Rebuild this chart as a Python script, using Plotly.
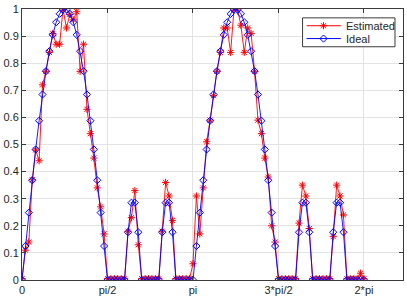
import numpy as np
import plotly.graph_objects as go

# sample grid: 101 uniform samples over [0, 2*pi]
n_samples = 101
x_vals = np.linspace(0, 2 * np.pi, n_samples)

ideal = [
    0.0, 0.1253, 0.2487, 0.3681, 0.4818, 0.5878, 0.6845, 0.7705, 0.8443, 0.9048,
    0.9511, 0.9823, 0.9980, 0.9980, 0.9823, 0.9511, 0.9048, 0.8443, 0.7705, 0.6845,
    0.5878, 0.4818, 0.3681, 0.2487, 0.1253, 0.0, 0.0, 0.0, 0.0, 0.0,
    0.0, 0.1763, 0.2853, 0.2853, 0.1763, 0.0, 0.0, 0.0, 0.0, 0.0,
    0.0, 0.1763, 0.2853, 0.2853, 0.1763, 0.0, 0.0, 0.0, 0.0, 0.0,
    0.0, 0.1253, 0.2487, 0.3681, 0.4818, 0.5878, 0.6845, 0.7705, 0.8443, 0.9048,
    0.9511, 0.9823, 0.9980, 0.9980, 0.9823, 0.9511, 0.9048, 0.8443, 0.7705, 0.6845,
    0.5878, 0.4818, 0.3681, 0.2487, 0.1253, 0.0, 0.0, 0.0, 0.0, 0.0,
    0.0, 0.1763, 0.2853, 0.2853, 0.1763, 0.0, 0.0, 0.0, 0.0, 0.0,
    0.0, 0.1763, 0.2853, 0.2853, 0.1763, 0.0, 0.0, 0.0, 0.0, 0.0,
    0.0,
]

estimated = [
    0.005, 0.11, 0.14, 0.37, 0.48, 0.44, 0.72, 0.77, 0.84, 0.91,
    0.87, 0.87, 1.00, 0.93, 0.98, 0.96, 0.99, 0.77, 0.87, 0.63,
    0.54, 0.45, 0.34, 0.27, 0.17, 0.005, 0.005, 0.005, 0.005, 0.005,
    0.005, 0.18, 0.23, 0.33, 0.13, 0.005, 0.005, 0.005, 0.005, 0.005,
    0.005, 0.18, 0.36, 0.31, 0.22, 0.005, 0.005, 0.005, 0.005, 0.005,
    0.06, 0.31, 0.17, 0.34, 0.51, 0.59, 0.68, 0.77, 0.84, 0.93,
    0.93, 0.84, 1.00, 1.00, 0.94, 0.84, 0.93, 0.91, 0.77, 0.59,
    0.54, 0.45, 0.38, 0.20, 0.14, 0.005, 0.005, 0.005, 0.005, 0.005,
    0.005, 0.21, 0.35, 0.31, 0.19, 0.005, 0.005, 0.005, 0.005, 0.005,
    0.005, 0.16, 0.35, 0.31, 0.24, 0.005, 0.005, 0.005, 0.005, 0.025,
    0.005,
]

series_names = ["Estimated", "Ideal"]
series_colors = ["#ff0000", "#0000ff"]

x_tick_vals = [0, np.pi / 2, np.pi, 3 * np.pi / 2, 2 * np.pi]
x_tick_text = ["0", "pi/2", "pi", "3*pi/2", "2*pi"]
y_tick_vals = [0, 0.1, 0.2, 0.3, 0.4, 0.5, 0.6, 0.7, 0.8, 0.9, 1]
y_tick_text = ["0", "0.1", "0.2", "0.3", "0.4", "0.5", "0.6", "0.7", "0.8", "0.9", "1"]

FONT = "Liberation Sans, Arial, Helvetica, sans-serif"
AXIS_COLOR = "#3a3a3a"
TEXT_COLOR = "#262626"

fig = go.Figure()
fig.add_trace(go.Scatter(
    x=x_vals, y=estimated, name=series_names[0], mode="lines+markers",
    line=dict(color=series_colors[0], width=0.9),
    marker=dict(symbol="asterisk-open", size=6, color=series_colors[0],
                line=dict(color=series_colors[0], width=1)),
    showlegend=False,
))
fig.add_trace(go.Scatter(
    x=x_vals, y=ideal, name=series_names[1], mode="lines+markers",
    line=dict(color=series_colors[1], width=0.9),
    marker=dict(symbol="diamond-open", size=5.5, color=series_colors[1],
                line=dict(color=series_colors[1], width=1)),
    showlegend=False,
))

# ---- MATLAB-style legend box (compact), drawn in paper coordinates ----
box_x0, box_x1 = 0.7364, 0.979
box_y0, box_y1 = 0.8607, 0.9673
row_y = [0.9382, 0.8909]
line_x0, line_x1 = 0.7469, 0.8369
glyph_x = 0.7914
text_x = 0.8474

shapes = [dict(type="rect", xref="paper", yref="paper",
               x0=box_x0, x1=box_x1, y0=box_y0, y1=box_y1,
               line=dict(color=AXIS_COLOR, width=1), fillcolor="white", layer="above")]
asterisk_path = ("M0,-3.6V3.6M-3.6,0H3.6M2.55,2.55L-2.55,-2.55M2.55,-2.55L-2.55,2.55")
diamond_path = "M-3.6,0L0,3.6L3.6,0L0,-3.6Z"
glyphs = [asterisk_path, diamond_path]
annotations = []
for name, color, ry, gpath in zip(series_names, series_colors, row_y, glyphs):
    shapes.append(dict(type="line", xref="paper", yref="paper",
                       x0=line_x0, x1=line_x1, y0=ry, y1=ry,
                       line=dict(color=color, width=1), layer="above"))
    shapes.append(dict(type="path", xref="paper", yref="paper",
                       xsizemode="pixel", ysizemode="pixel",
                       xanchor=glyph_x, yanchor=ry, path=gpath,
                       line=dict(color=color, width=1), fillcolor="rgba(0,0,0,0)",
                       layer="above"))
    annotations.append(dict(xref="paper", yref="paper", x=text_x, y=ry,
                            xanchor="left", yanchor="middle", text=name,
                            showarrow=False, borderpad=0,
                            font=dict(family=FONT, size=11, color=TEXT_COLOR)))

fig.update_layout(
    width=407, height=300,
    margin=dict(l=22, r=3, t=5, b=20),
    paper_bgcolor="white", plot_bgcolor="white",
    font=dict(family=FONT, size=11, color=TEXT_COLOR),
    showlegend=False,
    shapes=shapes,
    annotations=annotations,
)
fig.update_xaxes(
    range=[0, 7], tickmode="array", tickvals=x_tick_vals, ticktext=x_tick_text,
    showgrid=True, gridcolor="#e3e3e3", gridwidth=1, zeroline=False,
    showline=True, linecolor=AXIS_COLOR, linewidth=1, mirror="ticks",
    ticks="inside", ticklen=4, tickcolor=AXIS_COLOR, tickwidth=1,
    ticklabeloverflow="allow",
)
fig.update_yaxes(
    range=[0, 1], tickmode="array", tickvals=y_tick_vals, ticktext=y_tick_text,
    showgrid=True, gridcolor="#e3e3e3", gridwidth=1, zeroline=False,
    showline=True, linecolor=AXIS_COLOR, linewidth=1, mirror="ticks",
    ticks="inside", ticklen=4, tickcolor=AXIS_COLOR, tickwidth=1,
    ticklabeloverflow="allow",
)

fig.write_html(
    "out.html",
    config={"displayModeBar": False},
    post_script="document.body.style.margin='0';document.body.style.padding='0';",
)
